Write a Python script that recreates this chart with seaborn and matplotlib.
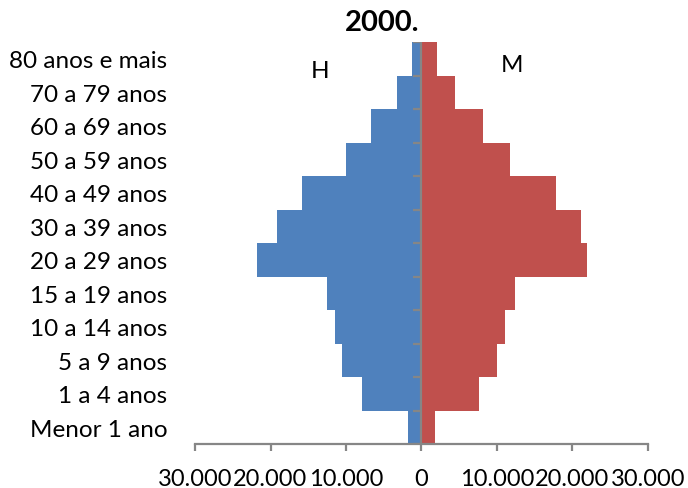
import matplotlib
matplotlib.use("Agg")
import matplotlib.pyplot as plt
import pandas as pd
import seaborn as sns
from matplotlib.ticker import FuncFormatter, FixedLocator

# Age groups, top to bottom
faixas = ["80 anos e mais", "70 a 79 anos", "60 a 69 anos", "50 a 59 anos",
          "40 a 49 anos", "30 a 39 anos", "20 a 29 anos", "15 a 19 anos",
          "10 a 14 anos", "5 a 9 anos", "1 a 4 anos", "Menor 1 ano"]
homens = [1200, 3250, 6650, 10050, 15850, 19150, 21850, 12500, 11400, 10550, 7850, 1850]
mulheres = [2000, 4500, 8200, 11700, 17750, 21100, 21950, 12400, 11050, 9950, 7550, 1750]
x_ticks = [-30000, -20000, -10000, 0, 10000, 20000, 30000]

AZUL = "#4F81BD"
VERMELHO = "#C0504D"
CINZA = "#868686"

sns.set_theme(style="white")
plt.rcParams["font.family"] = ["Lato", "DejaVu Sans"]

df = pd.DataFrame({
    "faixa": faixas * 2,
    "pop": [-v for v in homens] + mulheres,
    "sexo": ["H"] * len(faixas) + ["M"] * len(faixas),
})

fig = plt.figure(figsize=(6.88, 4.89), dpi=100)
ax = fig.add_axes([195 / 688, 1 - 445 / 489, 453 / 688, 402 / 489])

sns.barplot(data=df, x="pop", y="faixa", hue="sexo", order=faixas,
            palette={"H": AZUL, "M": VERMELHO}, saturation=1, dodge=False,
            width=1.0, orient="h", linewidth=0, legend=False, ax=ax)

ax.set_xlim(x_ticks[0], x_ticks[-1])
ax.set_ylim(len(faixas) - 0.5, -0.5)
ax.set_xlabel("")
ax.set_ylabel("")

# Zero line acting as the category axis, with ticks between groups
ax.axvline(0, color=CINZA, lw=1.6, zorder=5)
bounds = [i - 0.5 for i in range(len(faixas) + 1)]
ax.hlines(bounds, -1150, 0, color=CINZA, lw=1.6, zorder=5)

for s in ["left", "right", "top"]:
    ax.spines[s].set_visible(False)
ax.spines["bottom"].set_color(CINZA)
ax.spines["bottom"].set_linewidth(1.6)

ax.xaxis.set_major_locator(FixedLocator(x_ticks))
ax.xaxis.set_major_formatter(FuncFormatter(lambda v, p: f"{abs(v):,.0f}".replace(",", ".")))
ax.tick_params(axis="x", bottom=True, direction="out", length=5, width=1.6,
               color=CINZA, labelsize=17, labelcolor="black", pad=12)
ax.tick_params(axis="y", left=False, length=0, labelsize=17.5,
               labelcolor="black", pad=20)

fig.text(382 / 688, 1 - 23 / 489, "2000.", ha="center", va="center",
         fontsize=21, fontweight="bold", color="black")
fig.text(320 / 688, 1 - 72 / 489, "H", ha="center", va="center",
         fontsize=17.5, color="black")
fig.text(512 / 688, 1 - 66 / 489, "M", ha="center", va="center",
         fontsize=17.5, color="black")

fig.savefig("out.png", dpi=100)
